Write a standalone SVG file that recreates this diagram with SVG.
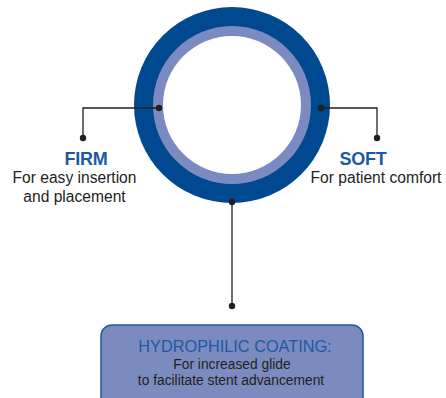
<svg xmlns="http://www.w3.org/2000/svg" width="446" height="398" viewBox="0 0 446 398">
<style>
.line{fill:none;stroke:#231f20;stroke-width:1.3}
.dot{fill:#231f20}
.head{font-family:"Liberation Sans",Arial,sans-serif;font-weight:bold;font-size:18px;fill:#1b5aa0;text-anchor:middle;letter-spacing:-0.3px}
.desc{font-family:"Liberation Sans",Arial,sans-serif;font-size:15.6px;fill:#231f20;text-anchor:middle}
.boxhead{font-family:"Liberation Sans",Arial,sans-serif;font-size:16.3px;fill:#1b5aa0;text-anchor:middle}
.boxdesc{font-family:"Liberation Sans",Arial,sans-serif;font-size:13.8px;fill:#231f20;text-anchor:middle}
</style>
<rect width="446" height="398" fill="#ffffff"/>
<g id="tube">
<circle cx="232" cy="105" r="98" fill="#004990"/>
<circle cx="232" cy="105" r="79" fill="#7b8bc1"/>
<circle cx="232" cy="105" r="69" fill="#ffffff"/>
</g>
<g id="connectors">
<polyline class="line" points="159,108 83,108 83,138"/>
<polyline class="line" points="321,108 377,108 377,138"/>
<line class="line" x1="232" y1="202" x2="232" y2="306"/>
<circle class="dot" cx="159" cy="108" r="3.2"/>
<circle class="dot" cx="83" cy="138" r="3.2"/>
<circle class="dot" cx="321" cy="108" r="3.2"/>
<circle class="dot" cx="377" cy="138" r="3.2"/>
<circle class="dot" cx="232" cy="202" r="3.2"/>
<circle class="dot" cx="232" cy="306" r="3.2"/>
</g>
<g id="firm">
<text class="head" x="86" y="165">FIRM</text>
<text class="desc" x="74.5" y="183">For easy insertion</text>
<text class="desc" x="74.5" y="202">and placement</text>
</g>
<g id="soft">
<text class="head" x="363" y="165">SOFT</text>
<text class="desc" x="376" y="183">For patient comfort</text>
</g>
<g id="coating">
<rect x="101" y="325" width="262" height="90" rx="11" fill="#7b8bbf" stroke="#245a9c" stroke-width="1.5"/>
<text class="boxhead" x="235" y="352">HYDROPHILIC COATING:</text>
<text class="boxdesc" x="232" y="369">For increased glide</text>
<text class="boxdesc" x="231" y="385">to facilitate stent advancement</text>
</g>
</svg>
